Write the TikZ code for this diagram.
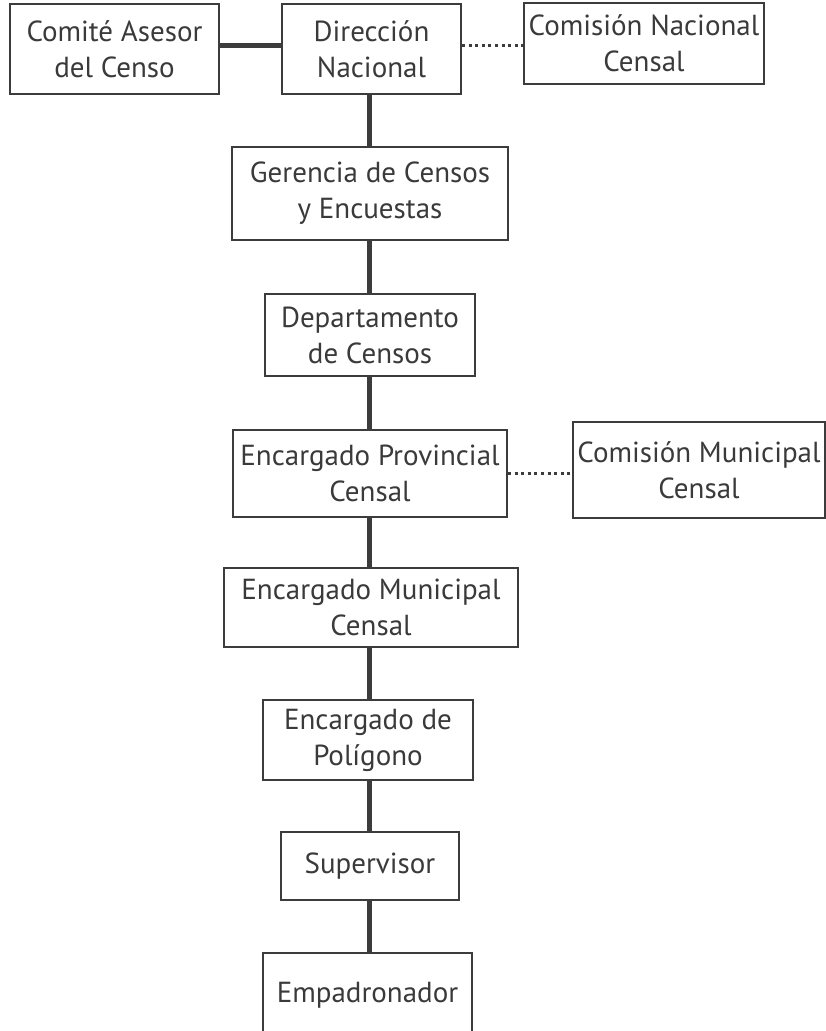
\documentclass[tikz,border=0pt]{standalone}
\usepackage{fontspec}
\setmainfont{PT Sans}
\definecolor{ink}{HTML}{3A3A3A}
\definecolor{edge}{HTML}{3C3C3C}
\tikzset{
  box/.style={draw=edge, line width=2pt, inner sep=0pt, align=center, text=ink,
    font=\fontsize{29}{36}\selectfont},
  solidlink/.style={draw=edge, line width=5pt},
  dotlink/.style={draw=edge, line width=3pt, dash pattern=on 3pt off 3.6pt}
}
\begin{document}
\begin{tikzpicture}[x=1pt,y=-1pt]
\clip (0,0) rectangle (826,1031);
\fill[white] (0,0) rectangle (826,1031);
\coordinate (trunk) at (369,0);
\node[box, minimum width=209, minimum height=90] (comite) at (114.5,49) {Comité Asesor\\del Censo};
\node[box, minimum width=179, minimum height=90] (direccion) at (371.5,49) {Dirección\\Nacional};
\node[box, minimum width=240, minimum height=81] (comnac) at (644,43.5) {Comisión Nacional\\Censal};
\node[box, minimum width=276, minimum height=93] (gerencia) at (370,193.5) {Gerencia de Censos\\y Encuestas};
\node[box, minimum width=210, minimum height=82] (depto) at (370,335) {Departamento\\de Censos};
\node[box, minimum width=274, minimum height=87] (provincial) at (370,473.5) {Encargado Provincial\\Censal};
\node[box, minimum width=252, minimum height=96] (commun) at (699,470) {Comisión Municipal\\Censal};
\node[box, minimum width=294, minimum height=79] (municipal) at (371,607.5) {Encargado Municipal\\Censal};
\node[box, minimum width=210, minimum height=80] (poligono) at (368,740) {Encargado de\\Polígono};
\node[box, minimum width=178, minimum height=68] (supervisor) at (370,866) {Supervisor};
\node[box, minimum width=209, minimum height=84] (empadronador) at (367.5,995) {Empadronador};

\draw[solidlink] ([yshift=4pt]comite.east) -- ([yshift=4pt]direccion.west);
\draw[dotlink] ([yshift=4pt]direccion.east) -- ([yshift=-1.5pt]comnac.west);
\draw[dotlink] (provincial.east) -- (provincial.east -| commun.west);
\draw[solidlink] (direccion.south -| trunk) -- (gerencia.north -| trunk);
\draw[solidlink] (gerencia.south -| trunk) -- (depto.north -| trunk);
\draw[solidlink] (depto.south -| trunk) -- (provincial.north -| trunk);
\draw[solidlink] (provincial.south -| trunk) -- (municipal.north -| trunk);
\draw[solidlink] (municipal.south -| trunk) -- (poligono.north -| trunk);
\draw[solidlink] (poligono.south -| trunk) -- (supervisor.north -| trunk);
\draw[solidlink] (supervisor.south -| trunk) -- (empadronador.north -| trunk);
\end{tikzpicture}
\end{document}
